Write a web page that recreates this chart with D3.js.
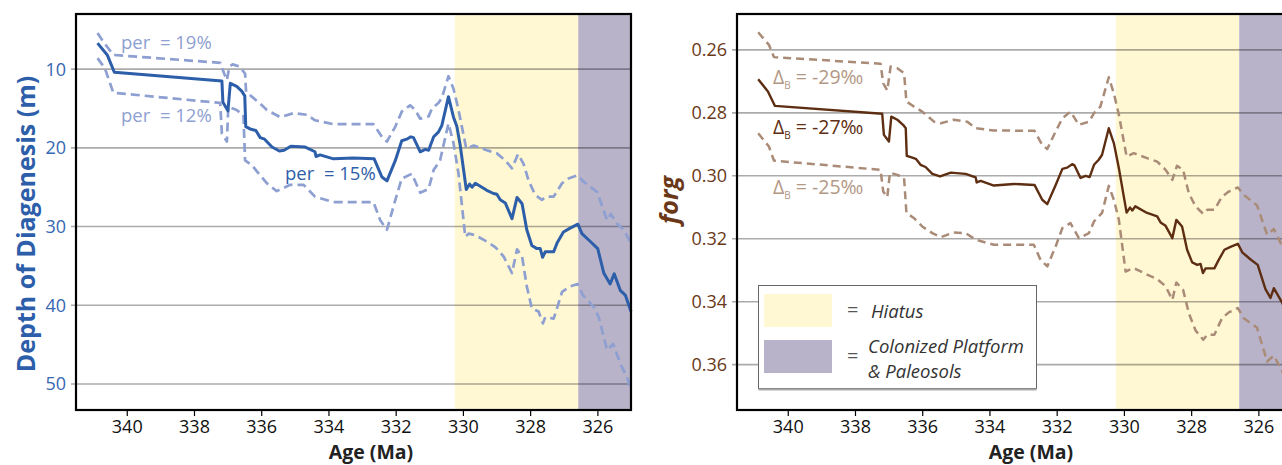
<!DOCTYPE html>
<html>
<head>
<meta charset="utf-8">
<script src="https://cdn.jsdelivr.net/npm/d3@7"></script>
<style>
  body { margin: 0; background: #fff; }
  svg { display: block; font-family: "Open Sans", "Noto Sans", sans-serif; }
</style>
</head>
<body>
<div id="chart"></div>
<script>
// ---- data (age in Ma, value) ----
// left panel: depth of diagenesis (m)
const per15 = [[340.87,6.7],[340.58,8.2],[340.37,10.4],[337.17,11.5],[337.14,14.2],[336.99,15.3],[336.92,11.8],[336.73,12.2],[336.58,12.8],[336.49,13.4],[336.46,17.3],[336.33,17.6],[336.16,17.8],[336.03,18.7],[335.90,18.9],[335.68,19.9],[335.46,20.4],[335.32,20.3],[335.12,19.8],[334.69,19.9],[334.40,20.5],[334.37,21.1],[334.25,20.9],[333.85,21.4],[333.26,21.3],[332.64,21.4],[332.41,23.7],[332.26,24.2],[332.01,21.6],[331.82,19.1],[331.67,18.9],[331.55,18.6],[331.47,18.7],[331.27,20.5],[331.12,20.2],[331.02,20.3],[330.87,18.6],[330.73,18.0],[330.63,17.2],[330.43,13.5],[330.28,16.1],[330.18,17.3],[330.08,19.7],[329.90,25.3],[329.80,24.6],[329.73,25.0],[329.63,24.5],[329.29,25.4],[329.09,25.8],[328.99,25.9],[328.89,26.6],[328.74,27.0],[328.54,29.0],[328.39,26.3],[328.24,27.1],[328.10,30.4],[327.95,32.4],[327.80,32.8],[327.70,32.8],[327.63,33.9],[327.55,33.2],[327.30,33.2],[327.20,32.1],[327.01,30.7],[326.81,30.2],[326.58,29.7],[326.46,30.9],[326.21,31.9],[325.99,32.8],[325.81,35.9],[325.62,37.3],[325.50,36.0],[325.32,38.1],[325.17,38.7],[325.00,40.8]];
const per19 = [[340.87,5.4],[340.70,6.5],[340.40,8.2],[337.22,9.2],[337.10,10.6],[337.02,11.4],[336.95,9.7],[336.85,9.4],[336.63,9.7],[336.48,10.6],[336.45,12.9],[336.28,13.5],[336.08,14.2],[335.83,15.2],[335.44,16.1],[335.04,15.6],[334.64,15.8],[334.40,16.5],[333.85,17.0],[332.66,17.0],[332.41,18.6],[332.26,19.2],[332.01,17.3],[331.82,15.4],[331.57,14.6],[331.42,15.2],[331.27,16.3],[331.02,16.0],[330.92,15.0],[330.73,14.3],[330.63,13.7],[330.43,10.9],[330.28,12.5],[330.13,15.2],[329.90,20.1],[329.68,19.7],[329.29,20.3],[328.99,20.7],[328.74,21.6],[328.54,22.6],[328.36,20.8],[328.20,22.0],[328.05,24.1],[327.85,26.0],[327.65,26.6],[327.52,26.2],[327.30,26.2],[327.05,24.5],[326.86,23.9],[326.59,23.5],[326.41,24.3],[326.01,25.6],[325.71,29.2],[325.60,28.4],[325.42,29.6],[325.22,30.4],[325.00,32.1]];
const per12 = [[340.87,8.6],[340.65,9.9],[340.40,13.0],[337.22,14.3],[337.17,18.2],[337.02,19.2],[336.98,14.8],[336.73,15.2],[336.53,15.8],[336.48,21.6],[336.28,22.2],[336.03,23.5],[335.83,24.5],[335.54,25.5],[335.14,24.7],[334.74,24.7],[334.40,26.2],[333.85,26.9],[332.66,26.9],[332.46,29.2],[332.26,30.4],[332.01,26.6],[331.82,23.9],[331.52,23.3],[331.27,25.7],[331.02,25.2],[330.87,22.8],[330.68,21.6],[330.43,16.9],[330.28,19.4],[330.13,23.3],[329.93,31.3],[329.83,30.9],[329.63,31.1],[329.29,31.9],[329.04,32.6],[328.79,33.8],[328.54,35.9],[328.39,32.9],[328.24,33.8],[328.10,37.6],[327.95,40.4],[327.75,40.8],[327.62,42.3],[327.55,41.5],[327.30,41.7],[327.05,38.3],[326.81,37.6],[326.59,37.3],[326.43,38.7],[326.11,40.2],[325.96,41.5],[325.71,45.7],[325.53,44.9],[325.32,47.4],[325.12,49.1],[325.00,50.8]];

// right panel: forg
const forg27 = [[340.88,0.2693],[340.59,0.2732],[340.38,0.2778],[337.19,0.2803],[337.14,0.2870],[336.99,0.2891],[336.92,0.2812],[336.74,0.2822],[336.57,0.2838],[336.49,0.2849],[336.46,0.2937],[336.34,0.2941],[336.19,0.2946],[336.05,0.2965],[335.90,0.2972],[335.70,0.2994],[335.47,0.3002],[335.15,0.2990],[334.71,0.2994],[334.41,0.3005],[334.38,0.3021],[334.26,0.3016],[333.87,0.3031],[333.27,0.3026],[332.66,0.3029],[332.43,0.3076],[332.28,0.3090],[332.03,0.3029],[331.83,0.2978],[331.69,0.2974],[331.54,0.2963],[331.47,0.2967],[331.29,0.3007],[331.14,0.3000],[331.02,0.3004],[330.89,0.2965],[330.75,0.2949],[330.65,0.2933],[330.45,0.2849],[330.30,0.2896],[330.15,0.2976],[329.92,0.3117],[329.82,0.3101],[329.75,0.3110],[329.66,0.3097],[329.31,0.3118],[329.01,0.3129],[328.91,0.3148],[328.76,0.3159],[328.56,0.3198],[328.44,0.3140],[328.27,0.3161],[328.12,0.3235],[327.97,0.3275],[327.82,0.3283],[327.72,0.3280],[327.65,0.3309],[327.57,0.3294],[327.31,0.3294],[327.18,0.3267],[327.01,0.3235],[326.83,0.3226],[326.61,0.3216],[326.48,0.3243],[326.24,0.3265],[326.02,0.3283],[325.79,0.3360],[325.64,0.3388],[325.54,0.3357],[325.29,0.3404],[325.00,0.3470]];
const forg29 = [[340.88,0.2544],[340.56,0.2584],[340.41,0.2623],[337.24,0.2644],[337.16,0.2706],[337.04,0.2729],[336.94,0.2653],[336.74,0.2658],[336.54,0.2674],[336.47,0.2764],[336.25,0.2780],[336.00,0.2796],[335.65,0.2828],[335.45,0.2833],[335.06,0.2822],[334.66,0.2828],[334.41,0.2849],[333.87,0.2856],[332.66,0.2857],[332.43,0.2902],[332.28,0.2915],[332.03,0.2859],[331.83,0.2817],[331.59,0.2796],[331.34,0.2838],[331.04,0.2828],[330.89,0.2801],[330.70,0.2780],[330.45,0.2687],[330.30,0.2738],[330.15,0.2806],[329.92,0.2939],[329.71,0.2928],[329.31,0.2944],[329.01,0.2955],[328.76,0.2981],[328.56,0.3013],[328.42,0.2968],[328.24,0.2981],[328.07,0.3055],[327.87,0.3097],[327.64,0.3121],[327.52,0.3108],[327.31,0.3108],[327.08,0.3066],[326.88,0.3050],[326.61,0.3037],[326.44,0.3060],[326.04,0.3094],[325.74,0.3187],[325.54,0.3169],[325.29,0.3224],[325.00,0.3275]];
const forg25 = [[340.88,0.2865],[340.56,0.2907],[340.41,0.2952],[337.24,0.2981],[337.16,0.3050],[337.04,0.3068],[336.96,0.2990],[336.74,0.2997],[336.54,0.3007],[336.47,0.3118],[336.25,0.3134],[336.00,0.3161],[335.70,0.3182],[335.45,0.3195],[335.06,0.3180],[334.71,0.3182],[334.41,0.3203],[333.87,0.3219],[332.68,0.3219],[332.48,0.3267],[332.28,0.3288],[332.03,0.3224],[331.83,0.3166],[331.59,0.3150],[331.34,0.3198],[331.04,0.3182],[330.89,0.3145],[330.65,0.3118],[330.45,0.3032],[330.30,0.3076],[330.15,0.3140],[329.95,0.3304],[329.71,0.3293],[329.31,0.3314],[329.01,0.3328],[328.76,0.3351],[328.56,0.3394],[328.44,0.3339],[328.24,0.3362],[328.07,0.3436],[327.87,0.3491],[327.64,0.3521],[327.52,0.3505],[327.31,0.3505],[327.08,0.3452],[326.88,0.3434],[326.61,0.3420],[326.44,0.3452],[326.04,0.3483],[325.74,0.3590],[325.54,0.3571],[325.29,0.3621],[325.00,0.3680]];

// shaded intervals (Ma)
const hiatus = [330.24, 326.57];
const colonized = [326.57, 325.0];

// ticks
const ageTicks = [340, 338, 336, 334, 332, 330, 328, 326];
const depthTicks = [10, 20, 30, 40, 50];
const forgTicks = [0.26, 0.28, 0.30, 0.32, 0.34, 0.36];

// ---- layout ----
const W = 1282, H = 465;
const plotTop = 14, plotBottom = 410;
const yellow = "#fff8d3", purple = "#b8b3c9";

const svg = d3.select("#chart").append("svg")
  .attr("width", W).attr("height", H);

function drawPanel(p) {
  const x = d3.scaleLinear().domain([341.51, 325.0]).range([p.left, p.left + 555]);
  const y = d3.scaleLinear().domain(p.yDomain).range([plotTop, plotBottom]);
  const g = svg.append("g");

  // shading
  g.append("rect").attr("x", x(hiatus[0])).attr("y", plotTop)
    .attr("width", x(hiatus[1]) - x(hiatus[0])).attr("height", plotBottom - plotTop)
    .attr("fill", yellow);
  g.append("rect").attr("x", x(colonized[0])).attr("y", plotTop)
    .attr("width", x(colonized[1]) - x(colonized[0])).attr("height", plotBottom - plotTop)
    .attr("fill", purple);

  // gridlines (they run out past the axis as the tick marks)
  g.selectAll(".grid").data(p.yTicks).enter().append("line")
    .attr("x1", p.left - 5).attr("x2", x(325.0))
    .attr("y1", d => y(d)).attr("y2", d => y(d))
    .attr("stroke", "#000").attr("stroke-opacity", 0.33).attr("stroke-width", 1.6);

  // y tick labels
  g.selectAll(".ylab").data(p.yTicks).enter().append("text")
    .attr("x", p.left - 10).attr("y", d => y(d)).attr("dy", "0.36em")
    .attr("text-anchor", "end").attr("font-size", 18).attr("fill", p.tickColor)
    .text(p.fmt);

  // lines
  const line = d3.line().x(d => x(d[0])).y(d => y(d[1]));
  p.series.forEach(s => {
    g.append("path").datum(s.data).attr("d", line)
      .attr("fill", "none").attr("stroke", s.color).attr("stroke-width", s.width)
      .attr("stroke-linejoin", "round")
      .attr("stroke-dasharray", s.dash || null);
  });

  // frame
  g.append("rect").attr("x", p.left).attr("y", plotTop)
    .attr("width", 555).attr("height", plotBottom - plotTop)
    .attr("fill", "none").attr("stroke", "#000").attr("stroke-width", 2.2);

  // x axis
  const xAxis = g.append("g").attr("transform", `translate(0,${plotBottom})`)
    .call(d3.axisBottom(x).tickValues(ageTicks).tickSize(6).tickPadding(4).tickFormat(d3.format("d")));
  xAxis.select(".domain").remove();
  xAxis.selectAll("line").attr("stroke", "#000").attr("stroke-width", 1.2);
  xAxis.selectAll("text").attr("font-size", 18).attr("fill", "#111")
    .attr("font-family", "'Open Sans', sans-serif");

  g.append("text").attr("x", p.ageX).attr("y", 459)
    .attr("text-anchor", "middle").attr("font-size", 19.5).attr("font-weight", "bold")
    .attr("fill", "#222").text("Age (Ma)");

  return { x, y, g };
}

// ---- left panel ----
const blue = "#2d5ea9", lightBlue = "#8e9fd1";
const L = drawPanel({
  left: 76, yDomain: [3, 53.3], yTicks: depthTicks, fmt: d3.format("d"),
  tickColor: "#3767b2", ageX: 371,
  series: [
    { data: per19, color: lightBlue, width: 2.7, dash: "9,5" },
    { data: per12, color: lightBlue, width: 2.7, dash: "9,5" },
    { data: per15, color: blue, width: 3 }
  ]
});

L.g.append("text").attr("transform", "translate(35,224) rotate(-90)")
  .attr("text-anchor", "middle").attr("font-size", 25).attr("font-weight", "bold")
  .attr("fill", blue).text("Depth of Diagenesis (m)");

const perLabels = [
  { t: "per  = 19%", x: 121, y: 49, c: lightBlue },
  { t: "per  = 12%", x: 121, y: 122, c: lightBlue },
  { t: "per  = 15%", x: 285, y: 180, c: blue }
];
L.g.selectAll(".per").data(perLabels).enter().append("text")
  .attr("x", d => d.x).attr("y", d => d.y).attr("font-size", 18.5)
  .style("white-space", "pre").attr("fill", d => d.c).text(d => d.t);

// ---- right panel ----
const brown = "#5e2e12", lightBrown = "#a98b77";
const R = drawPanel({
  left: 737, yDomain: [0.2486, 0.3744], yTicks: forgTicks, fmt: d3.format(".2f"),
  tickColor: "#6a3818", ageX: 1031,
  series: [
    { data: forg29, color: lightBrown, width: 2.5, dash: "8,5" },
    { data: forg25, color: lightBrown, width: 2.5, dash: "8,5" },
    { data: forg27, color: brown, width: 2.4 }
  ]
});

R.g.append("text").attr("transform", "translate(678,200) rotate(-90)")
  .attr("text-anchor", "middle").attr("font-size", 25).attr("font-weight", "bold")
  .attr("font-style", "italic").attr("fill", "#6a3818").text("forg");

const deltaLabels = [
  { v: "-29‰", y: 84, c: "#b39885" },
  { v: "-27‰", y: 134, c: brown },
  { v: "-25‰", y: 194, c: "#b39885" }
];
deltaLabels.forEach(d => {
  const t = R.g.append("text").attr("x", 773).attr("y", d.y)
    .attr("font-size", 19.5).attr("fill", d.c);
  t.append("tspan").text("Δ");
  t.append("tspan").attr("font-size", 10).attr("dy", 5).text("B");
  t.append("tspan").attr("dy", -5).text(" = " + d.v);
});

// legend
const lg = R.g.append("g");
lg.append("rect").attr("x", 758.5).attr("y", 285.5).attr("width", 278).attr("height", 103)
  .attr("fill", "#fff").attr("stroke", "#666").attr("stroke-width", 1);
lg.append("line").attr("x1", 758.5).attr("x2", 1036.5).attr("y1", 389.5).attr("y2", 389.5)
  .attr("stroke", "#aaa").attr("stroke-width", 2);
const legendItems = [
  { fill: yellow, y: 294, lines: ["Hiatus"], ty: [318] },
  { fill: purple, y: 340, lines: ["Colonized Platform", "& Paleosols"], ty: [353, 378] }
];
legendItems.forEach(it => {
  lg.append("rect").attr("x", 764).attr("y", it.y).attr("width", 68).attr("height", 33)
    .attr("fill", it.fill);
  lg.append("text").attr("x", 847).attr("y", it.y + 23).attr("font-size", 20)
    .attr("fill", "#555").text("=");
  it.lines.forEach((s, i) => {
    lg.append("text").attr("x", i === 0 && it.lines.length === 1 ? 871 : 868)
      .attr("y", it.ty[i]).attr("font-size", 18.5).attr("font-style", "italic")
      .attr("fill", "#333").text(s);
  });
});
</script>
</body>
</html>
